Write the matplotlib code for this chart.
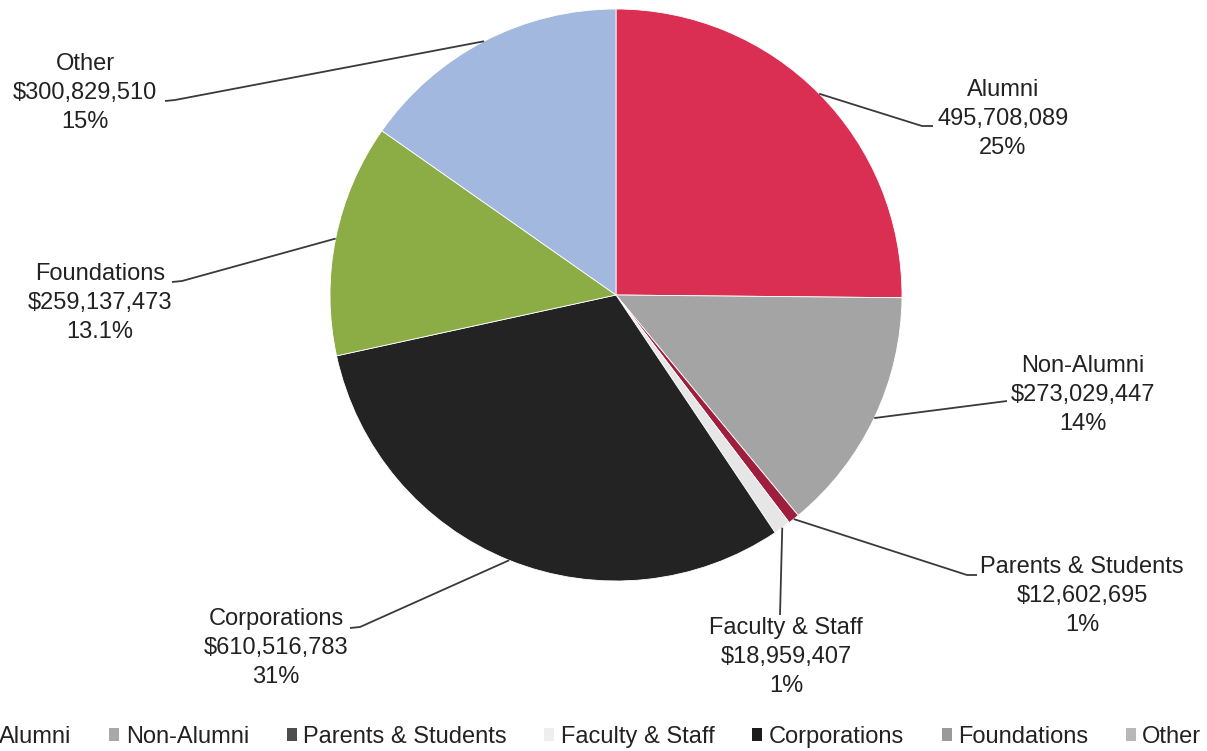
import numpy as np
import matplotlib
matplotlib.use("Agg")
import matplotlib.pyplot as plt
from matplotlib.patches import Patch

# Gift totals by donor source
categories = ["Alumni", "Non-Alumni", "Parents & Students", "Faculty & Staff",
              "Corporations", "Foundations", "Other"]
amounts = [495708089, 273029447, 12602695, 18959407, 610516783, 259137473, 300829510]
amount_prefix = ["", "$", "$", "$", "$", "$", "$"]
pct_decimals = [0, 0, 0, 0, 0, 1, 0]

slice_colors = ["#DA2F52", "#A4A4A4", "#9E1F3D", "#E6E6E6",
                "#232323", "#8CAC45", "#A3B8DE"]
legend_colors = ["#646464", "#A8A8A8", "#4E4E4E", "#EEEEEE",
                 "#1C1C1C", "#9A9A9A", "#B8B8B8"]

W, H = 1207, 751
TEXT = "#222222"
LINE = "#3A3A3A"


def px(x, y):
    """Pixel position (origin top-left) -> data coordinates."""
    return x, H - y


fig = plt.figure(figsize=(W / 100, H / 100), dpi=100)
ax = fig.add_axes([0, 0, 1, 1])

cx, cy = px(616, 295)
radius = 286
wedges, _ = ax.pie(amounts, colors=slice_colors, startangle=90, counterclock=False,
                   radius=radius, center=(cx, cy),
                   wedgeprops=dict(edgecolor="white", linewidth=0.6))
ax.set_xlim(0, W)
ax.set_ylim(0, H)
ax.set_aspect("equal")
ax.axis("off")

total = sum(amounts)

# label block centre and leader-line elbow points (pixels)
label_pos = [(1003, 119), (1083, 395), (1082, 596), (786, 657),
             (276, 648), (100, 303), (85, 93)]
elbows = [[(922, 126), (933, 126)],
          [(1007, 401)],
          [(967, 575), (977, 575)],
          [(780, 615)],
          [(360, 627), (350, 628)],
          [(182, 281), (172, 282)],
          [(175, 100), (165, 101)]]

for w, name, amt, pre, dec, lp, elb in zip(wedges, categories, amounts, amount_prefix,
                                            pct_decimals, label_pos, elbows):
    mid = np.deg2rad((w.theta1 + w.theta2) / 2)
    sx = cx + radius * np.cos(mid)
    sy = cy + radius * np.sin(mid)
    xs = [sx] + [px(*p)[0] for p in elb]
    ys = [sy] + [px(*p)[1] for p in elb]
    ax.plot(xs, ys, color=LINE, lw=1.3, solid_capstyle="butt")
    pct = 100 * amt / total
    txt = f"{name}\n{pre}{amt:,}\n{pct:.{dec}f}%"
    ax.text(*px(*lp), txt, ha="center", va="center", ma="center",
            fontsize=17, family="Liberation Sans", color=TEXT,
            linespacing=1.4, parse_math=False)

handles = [Patch(facecolor=c, edgecolor="none", label=n)
           for c, n in zip(legend_colors, categories)]
fig.legend(handles=handles, loc="center left", ncol=7,
           bbox_to_anchor=(-17 / W, 1 - 737 / H), frameon=False,
           borderaxespad=0, borderpad=0,
           prop=dict(family="Liberation Sans", size=17),
           labelcolor=TEXT, handlelength=0.42, handleheight=0.42,
           handletextpad=0.27, columnspacing=1.6)

fig.savefig("out.png", dpi=100, facecolor="white")
